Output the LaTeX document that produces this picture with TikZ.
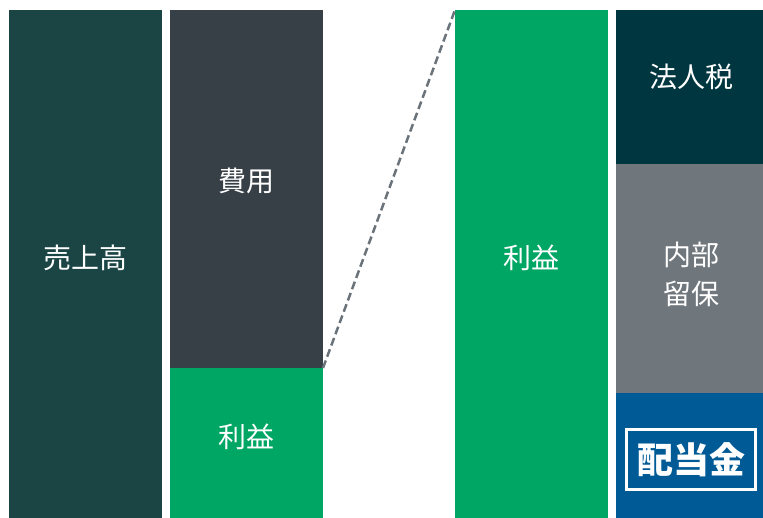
\documentclass[tikz,border=0pt]{standalone}
\usepackage{fontspec}
\setmainfont{Noto Sans CJK JP}
\definecolor{salesc}{HTML}{1B4545}
\definecolor{costc}{HTML}{373F47}
\definecolor{profitc}{HTML}{00A664}
\definecolor{taxc}{HTML}{003640}
\definecolor{retainc}{HTML}{6F777D}
\definecolor{divc}{HTML}{005A96}
\definecolor{dashc}{HTML}{6B737A}
\tikzset{
  bar/.style={draw=none, inner sep=0pt, outer sep=0pt, anchor=north west},
  lbl/.style={text=white, font=\fontsize{28}{39}\selectfont, align=center, inner sep=0pt},
}
\begin{document}
\begin{tikzpicture}[x=1pt, y=-1pt]
\useasboundingbox (0,0) rectangle (763,518);
% bars
\node[bar, fill=salesc, minimum width=153pt, minimum height=508pt] (sales) at (9,10) {};
\node[bar, fill=costc, minimum width=153pt, minimum height=358pt] (cost) at (170,10) {};
\node[bar, fill=profitc, minimum width=153pt, minimum height=150pt] (profit) at (170,368) {};
\node[bar, fill=profitc, minimum width=153pt, minimum height=508pt] (profitbig) at (455,10) {};
\node[bar, fill=taxc, minimum width=147pt, minimum height=154pt] (tax) at (616,10) {};
\node[bar, fill=retainc, minimum width=147pt, minimum height=229pt] (retain) at (616,164) {};
\node[bar, fill=divc, minimum width=147pt, minimum height=125pt] (div) at (616,393) {};
% dashed connector
\draw[dashc, line width=2.5pt, dash pattern=on 8pt off 4pt] (profit.north east) -- (profitbig.north west);
% labels
\node[lbl] (tsales) at (85.5,258) {売上高};
\node[lbl] (tcost) at (246.5,181) {費用};
\node[lbl] (tprofit) at (246.5,437) {利益};
\node[lbl] (tprofitbig) at (531.5,258) {利益};
\node[lbl] (ttax) at (691.5,77) {法人税};
\node[lbl] (tretain) at (691.5,274) {内部\\留保};
% dividend boxed label
\node[draw=white, line width=3pt, minimum width=129pt, minimum height=60pt, inner sep=0pt,
      text=white, font=\fontsize{36}{36}\bfseries\selectfont] (tdiv) at (691,459.5) {配当金};
\end{tikzpicture}
\end{document}
